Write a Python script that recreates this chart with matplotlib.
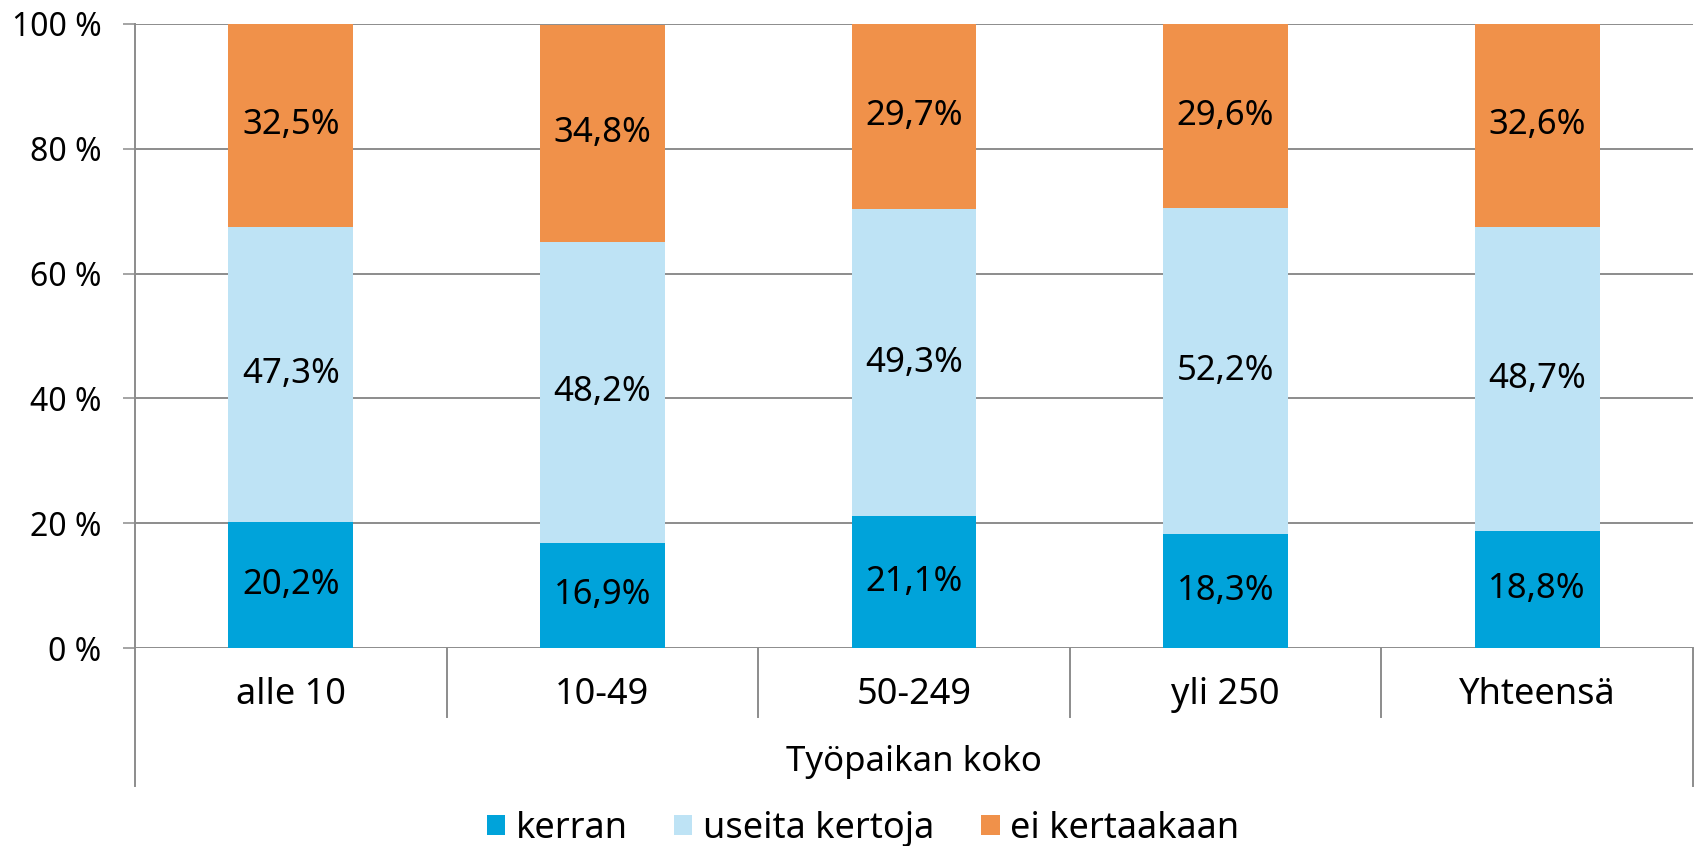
import matplotlib
matplotlib.use('Agg')
import matplotlib.pyplot as plt
import matplotlib.transforms as mtransforms
import numpy as np

# ============================================================
# DATA
# ============================================================
categories = ['alle 10', '10-49', '50-249', 'yli 250', 'Yhteensä']
kerran = [20.2, 16.9, 21.1, 18.3, 18.8]
useita = [47.3, 48.2, 49.3, 52.2, 48.7]
ei_kertaakaan = [32.5, 34.8, 29.7, 29.6, 32.6]
series_names = ['kerran', 'useita kertoja', 'ei kertaakaan']
y_ticks = [0, 20, 40, 60, 80, 100]
x_title = 'Työpaikan koko'

COLORS = ['#00A3DA', '#BEE3F5', '#F0914A']
GRID = '#8C8C8C'

plt.rcParams['font.family'] = ['Noto Sans', 'DejaVu Sans']

# ============================================================
# FIGURE
# ============================================================
fig = plt.figure(figsize=(16.94, 8.46), dpi=100)
ax = fig.add_axes([135 / 1694, 1 - 648 / 846, (1693 - 135) / 1694, 624 / 846])

x = np.arange(len(categories))
series = [kerran, useita, ei_kertaakaan]
bottom = np.zeros(len(categories))
for vals, name, col in zip(series, series_names, COLORS):
    vals = np.array(vals)
    ax.bar(x, vals, width=0.40, bottom=bottom, color=col, label=name, zorder=2)
    for xi, b, v in zip(x, bottom, vals):
        ax.text(xi, b + v / 2, f"{v:.1f}%".replace('.', ','), ha='center', va='center',
                fontsize=25, color='black', zorder=3)
    bottom += vals

ax.set_xlim(-0.5, len(categories) - 0.5)
ax.set_ylim(0, 100)
ax.set_yticks(y_ticks)
ax.set_yticklabels([f"{t} %" for t in y_ticks], fontsize=23)
ax.yaxis.grid(True, color=GRID, linewidth=1.4)
ax.set_axisbelow(True)
ax.tick_params(axis='y', length=9, width=1.1, color=GRID, pad=15)
ax.set_xticks([])
for s in ax.spines.values():
    s.set_visible(False)

# category labels, separators and outer bracket below the axis
trans = mtransforms.blended_transform_factory(ax.transData, ax.transAxes)
for xi, cat in zip(x, categories):
    ax.text(xi, -47 / 624, cat, transform=trans, ha='center', va='center', fontsize=26)
for b in np.arange(0.5, len(categories) - 1, 1.0):
    ax.plot([b, b], [0, -69 / 624], transform=trans, color=GRID, lw=1.4, clip_on=False)
ax.plot([0, 0], [1, -138 / 624], transform=ax.transAxes, color=GRID, lw=1.4, clip_on=False)
ax.plot([1, 1], [0, -138 / 624], transform=ax.transAxes, color=GRID, lw=1.4, clip_on=False)
ax.text(0.5, -114 / 624, x_title, transform=ax.transAxes, ha='center', va='center', fontsize=25)

fig.legend(loc='center', bbox_to_anchor=(863 / 1694, 1 - 829 / 846), ncol=3, frameon=False,
           fontsize=26, handlelength=0.5, handleheight=0.5, handletextpad=0.3,
           columnspacing=1.3, borderaxespad=0)

fig.savefig('out.png', dpi=100)
